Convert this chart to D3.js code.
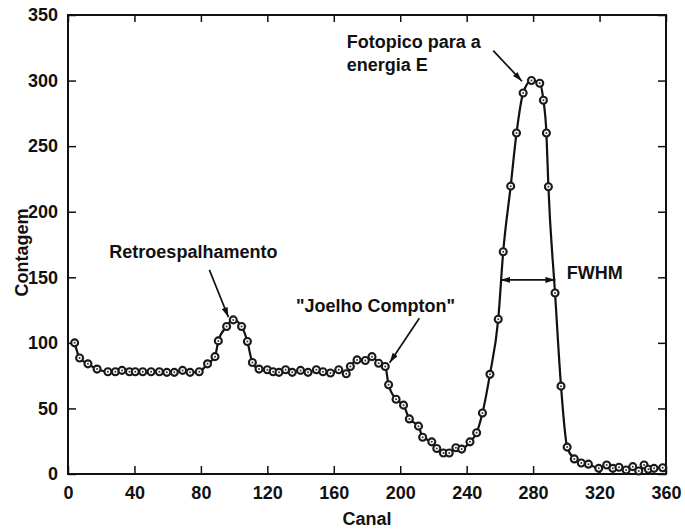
<!DOCTYPE html>
<html>
<head>
<meta charset="utf-8">
<script src="https://cdn.jsdelivr.net/npm/d3@7"></script>
<style>
  html, body { margin: 0; padding: 0; background: #fff; }
  svg { display: block; }
  text { font-family: "Liberation Sans", Arial, Helvetica, sans-serif; font-weight: bold; fill: #111; }
</style>
</head>
<body>
<svg id="chart" width="685" height="529"></svg>
<script>
// ---- data ----
const channels = [4, 7, 12, 17.5, 24, 28.5, 32.5, 37, 40.5, 45, 50, 55, 59.5, 64, 69, 73.5, 79, 84, 88.5, 90.5,
  95.5, 99.5, 104.5, 108, 111, 115, 120, 123.5, 127, 131, 135, 140, 144.5, 149.5, 153.5, 158, 163, 167.5, 170, 174,
  179, 183, 187, 191, 193, 197.5, 202, 205.5, 211, 213.5, 219, 222, 226, 229.5, 233.5, 237, 242, 246, 249.5, 254,
  259, 262, 266.5, 270, 274, 279, 284, 286.2, 288, 289.2, 293.2, 296.8, 300.5, 304.8, 309, 313.3, 319.5, 324.3, 328, 331.7,
  336, 340, 343.6, 346.8, 349.4, 352.8, 358];
const counts = [100, 88.5, 84, 80, 78, 78, 79, 78, 78, 78, 78, 78, 77.5, 77.5, 79, 77.5, 78, 84, 89.5, 101.5,
  112.5, 117.5, 112.5, 101, 85, 80, 79.5, 78, 77.5, 79.5, 77.5, 79, 77.5, 79.5, 78, 77, 79.5, 76.5, 82, 87,
  86.5, 89.5, 84.5, 82, 68, 57, 52.5, 42, 36.5, 28, 24.5, 19.5, 16, 16, 20, 19, 24.5, 31.5, 46.5, 76,
  118, 169.5, 219.5, 260, 290.5, 300, 298, 285, 260, 219, 138, 67, 20.5, 11.5, 8.4, 7.5, 4.3, 6.9, 4.3, 5.1,
  3.1, 5.6, 2.3, 6.9, 3.6, 4.3, 4.8];
const xTicks = [0, 40, 80, 120, 160, 200, 240, 280, 320, 360];
const yTicks = [0, 50, 100, 150, 200, 250, 300, 350];
const xLabel = "Canal";
const yLabel = "Contagem";

// ---- drawing ----
const svg = d3.select("#chart");
const x = d3.scaleLinear().domain([0, 360]).range([68, 666]);
const y = d3.scaleLinear().domain([0, 350]).range([474, 15]);
const points = channels.map((c, i) => ({ c, v: counts[i] }));

svg.append("rect").attr("width", 685).attr("height", 529).attr("fill", "#fff");

const defs = svg.append("defs");
defs.append("marker")
  .attr("id", "arrow")
  .attr("viewBox", "0 0 10 6")
  .attr("refX", 10).attr("refY", 3)
  .attr("markerWidth", 10).attr("markerHeight", 6)
  .attr("markerUnits", "userSpaceOnUse")
  .attr("orient", "auto-start-reverse")
  .append("path").attr("d", "M0,0 L10,3 L0,6 Z").attr("fill", "#111");

// axes
const gB = svg.append("g").attr("transform", `translate(0,${y(0)})`)
  .call(d3.axisBottom(x).tickValues(xTicks).tickSizeInner(-8).tickSizeOuter(0).tickPadding(12));
const gL = svg.append("g").attr("transform", `translate(${x(0)},0)`)
  .call(d3.axisLeft(y).tickValues(yTicks).tickSizeInner(-8).tickSizeOuter(0).tickPadding(10));
const gT = svg.append("g").attr("transform", `translate(0,${y(350)})`)
  .call(d3.axisTop(x).tickValues(xTicks).tickSizeInner(-7).tickSizeOuter(0).tickFormat(""));
const gR = svg.append("g").attr("transform", `translate(${x(360)},0)`)
  .call(d3.axisRight(y).tickValues(yTicks).tickSizeInner(-8).tickSizeOuter(0).tickFormat(""));
[gB, gL, gT, gR].forEach(g => {
  g.select(".domain").remove();
  g.selectAll(".tick line").attr("stroke", "#111").attr("stroke-width", 1.5);
  g.selectAll(".tick text").attr("font-size", 18).attr("fill", "#111")
    .attr("font-family", '"Liberation Sans", Arial, sans-serif').attr("font-weight", "bold");
});

svg.append("rect")
  .attr("x", x(0)).attr("y", y(350))
  .attr("width", x(360) - x(0)).attr("height", y(0) - y(350))
  .attr("fill", "none").attr("stroke", "#111").attr("stroke-width", 2);

// axis titles
svg.append("text").attr("x", (x(0) + x(360)) / 2).attr("y", 525)
  .attr("text-anchor", "middle").attr("font-size", 18).text(xLabel);
svg.append("text").attr("transform", `translate(28,${(y(0) + y(350)) / 2 + 8}) rotate(-90)`)
  .attr("text-anchor", "middle").attr("font-size", 18).text(yLabel);

// curve
const line = d3.line().x(d => x(d.c)).y(d => y(d.v)).curve(d3.curveMonotoneX);
svg.append("path").datum(points).attr("d", line)
  .attr("fill", "none").attr("stroke", "#111").attr("stroke-width", 2.2);

// markers
const pg = svg.append("g");
pg.selectAll("circle.m").data(points).join("circle").attr("class", "m")
  .attr("cx", d => x(d.c)).attr("cy", d => y(d.v)).attr("r", 3.5)
  .attr("fill", "#fff").attr("stroke", "#1a1a1a").attr("stroke-width", 2.1);
pg.selectAll("circle.d").data(points).join("circle").attr("class", "d")
  .attr("cx", d => x(d.c)).attr("cy", d => y(d.v)).attr("r", 1)
  .attr("fill", "#333");

// annotations
function arrow(c1, v1, c2, v2, both) {
  const p = svg.append("line")
    .attr("x1", x(c1)).attr("y1", y(v1)).attr("x2", x(c2)).attr("y2", y(v2))
    .attr("stroke", "#111").attr("stroke-width", 1.7)
    .attr("marker-end", "url(#arrow)");
  if (both) p.attr("marker-start", "url(#arrow)");
}
function label(c, v, txt) {
  svg.append("text").attr("x", x(c)).attr("y", y(v)).attr("font-size", 18).text(txt);
}
label(24.9, 164.4, "Retroespalhamento");
arrow(85.1, 155.6, 96.6, 119.5);

label(167.8, 324.6, "Fotopico para a");
label(167.8, 307.5, "energia E");
arrow(256, 322.8, 273.3, 299.5);

label(137.3, 123.8, "\"Joelho Compton\"");
arrow(211.5, 118.7, 193.6, 84.8);

label(300.2, 148.5, "FWHM");
arrow(260.2, 148, 293.4, 148, true);
</script>
</body>
</html>
